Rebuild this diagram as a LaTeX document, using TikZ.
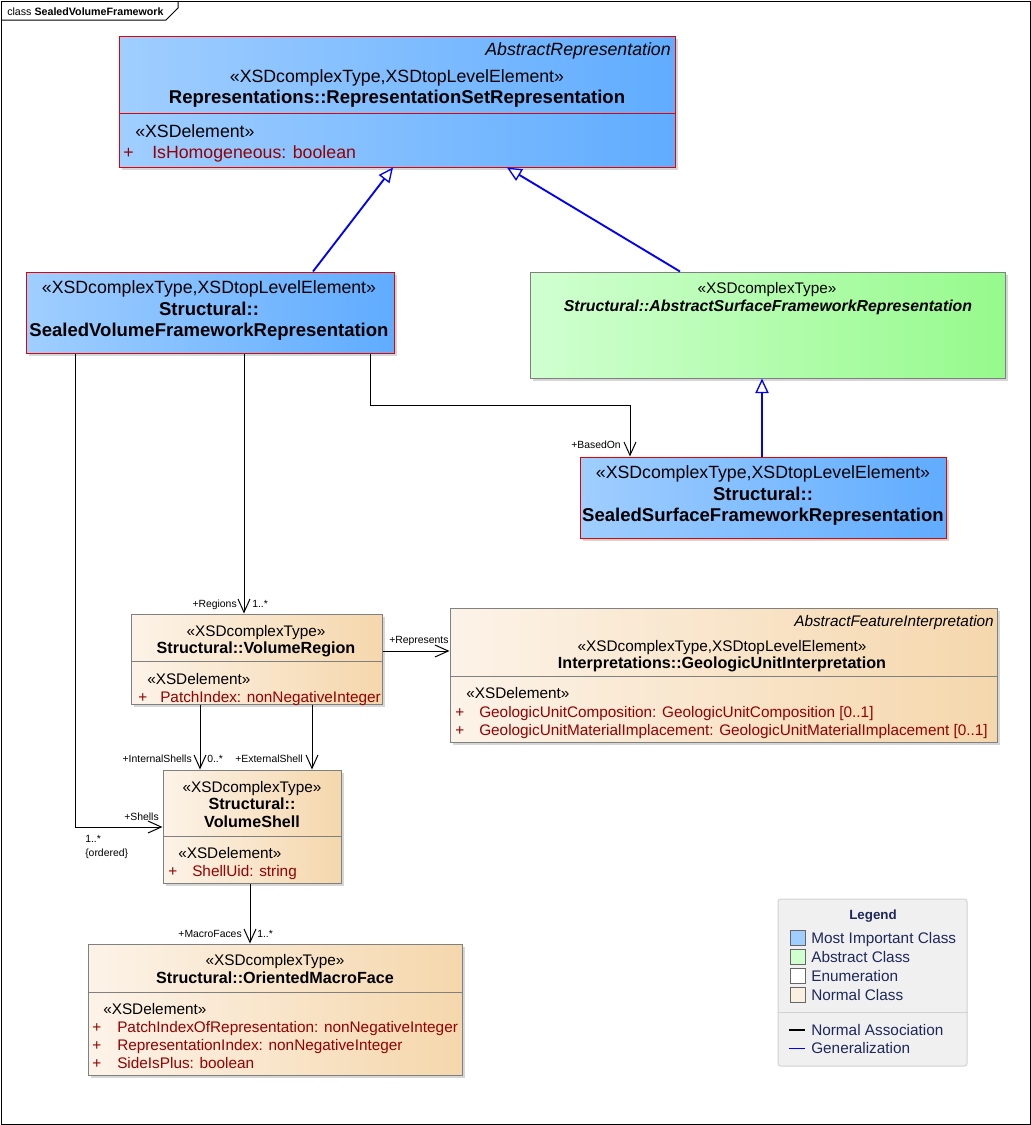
\documentclass[tikz,border=0pt]{standalone}
\usepackage{fontspec}
\setmainfont{Liberation Sans}
\usetikzlibrary{fit,shadows,arrows.meta,calc}
\definecolor{blueL}{RGB}{160,206,255}
\definecolor{blueR}{RGB}{96,172,255}
\definecolor{greenL}{RGB}{208,255,208}
\definecolor{greenR}{RGB}{150,250,140}
\definecolor{beigeL}{RGB}{252,243,232}
\definecolor{beigeR}{RGB}{245,215,172}
\definecolor{redB}{RGB}{230,0,0}
\definecolor{grayB}{RGB}{128,128,128}
\definecolor{attrc}{RGB}{150,0,0}
\definecolor{navy}{RGB}{30,40,90}
\definecolor{genblue}{RGB}{0,0,255}
\definecolor{legbg}{RGB}{240,240,240}
\definecolor{legline}{RGB}{210,210,210}
\definecolor{legblue}{RGB}{160,206,255}
\definecolor{leggreen}{RGB}{208,255,208}
\definecolor{legbeige}{RGB}{250,240,226}
\begin{document}
\begin{tikzpicture}[x=0.75pt,y=-0.75pt,
  box/.style={inner sep=0pt, line width=0.75pt,
    drop shadow={shadow xshift=2.5pt,shadow yshift=-2.5pt,fill=black!16,opacity=1}},
  blueclass/.style={box, draw=redB, left color=blueL, right color=blueR},
  greenclass/.style={box, draw=grayB, left color=greenL, right color=greenR},
  normclass/.style={box, draw=grayB, left color=beigeL, right color=beigeR},
  bt/.style={inner sep=0pt, font=\fontsize{13.3}{15.75}\selectfont, anchor=mid, yshift=-1.9pt},
  nt/.style={inner sep=0pt, font=\fontsize{11.5}{13.2}\selectfont, anchor=mid, yshift=-1.9pt},
  btb/.style={bt, font=\fontsize{13.9}{15.75}\selectfont\bfseries},
  ntb/.style={nt, font=\fontsize{12.1}{13.2}\selectfont\bfseries},
  battr/.style={bt, anchor=mid west, text=attrc},
  nattr/.style={nt, anchor=mid west, text=attrc},
  lbl/.style={inner sep=0pt, font=\fontsize{7.8}{9}\selectfont, anchor=mid, yshift=-0.8pt},
  legt/.style={inner sep=0pt, font=\fontsize{11.5}{13}\selectfont, text=navy, anchor=mid west, yshift=-1.5pt},
  sep/.style={line width=0.75pt},
  gen/.style={draw=genblue, line width=1.4pt, -{Triangle[length=11pt,width=10pt,fill=white,line width=1pt]}},
  assoc/.style={draw=black, line width=0.75pt, -{Straight Barb[length=10pt,width=9pt]}}
]
\useasboundingbox (0,0) rectangle (1031,1125);
% frame
\draw[line width=0.75pt] (1,1) rectangle (1030,1124);
\draw[line width=0.75pt] (1,20) -- (166,20) -- (178,8) -- (178,1);
\node[inner sep=0pt, anchor=mid west, font=\fontsize{8}{9}\selectfont, yshift=-0.8pt] (title) at (7,11) {class \textbf{SealedVolumeFramework}};

% ---------- boxes ----------
\node[blueclass, fit={(119,36) (675,167)}] (rsr) {};
\draw[sep, redB] (rsr.west |- 0,113) -- (rsr.east |- 0,113);
\node[bt, anchor=mid east, font=\fontsize{13.3}{15.75}\selectfont\itshape] (rsrA) at (671,49) {AbstractRepresentation};
\node[bt] (rsrS) at (397,76) {«XSDcomplexType,XSDtopLevelElement»};
\node[btb] (rsrN) at (397,97) {Representations::RepresentationSetRepresentation};
\node[bt, anchor=mid west] (rsrE) at (135,131) {«XSDelement»};
\node[battr] (rsrP) at (123,152) {+};
\node[battr] (rsrT) at (152,152) {IsHomogeneous: boolean};

\node[blueclass, fit={(26,272) (394,353)}] (svfr) {};
\node[bt] (svfrS) at (209,287) {«XSDcomplexType,XSDtopLevelElement»};
\node[btb] (svfrN1) at (209,309) {Structural::};
\node[btb] (svfrN2) at (209,330) {SealedVolumeFrameworkRepresentation};

\node[greenclass, fit={(530,272) (1005,378)}] (asfr) {};
\node[nt] (asfrS) at (767,287) {«XSDcomplexType»};
\node[ntb, font=\fontsize{11.9}{13.2}\selectfont\bfseries\itshape] (asfrN) at (768,305) {Structural::AbstractSurfaceFrameworkRepresentation};

\node[blueclass, fit={(580,457) (946,538)}] (ssfr) {};
\node[bt] (ssfrS) at (763,472) {«XSDcomplexType,XSDtopLevelElement»};
\node[btb] (ssfrN1) at (763,494) {Structural::};
\node[btb] (ssfrN2) at (763,515) {SealedSurfaceFrameworkRepresentation};

\node[normclass, fit={(131,614) (382,704)}] (vr) {};
\draw[sep, grayB] (vr.west |- 0,661) -- (vr.east |- 0,661);
\node[nt] (vrS) at (256,630) {«XSDcomplexType»};
\node[ntb] (vrN) at (256,647) {Structural::VolumeRegion};
\node[nt, anchor=mid west] (vrE) at (147,678) {«XSDelement»};
\node[nattr] (vrP) at (138,696) {+};
\node[nattr] (vrT) at (160,696) {PatchIndex: nonNegativeInteger};

\node[normclass, fit={(450,608) (997,742)}] (gui) {};
\draw[sep, grayB] (gui.west |- 0,676) -- (gui.east |- 0,676);
\node[nt, anchor=mid east, font=\fontsize{11.5}{13.2}\selectfont\itshape] (guiA) at (994,620) {AbstractFeatureInterpretation};
\node[nt] (guiS) at (722,645) {«XSDcomplexType,XSDtopLevelElement»};
\node[ntb] (guiN) at (722,662) {Interpretations::GeologicUnitInterpretation};
\node[nt, anchor=mid west] (guiE) at (466,692) {«XSDelement»};
\node[nattr] (guiP1) at (455,711) {+};
\node[nattr] (guiT1) at (479,711) {GeologicUnitComposition: GeologicUnitComposition [0..1]};
\node[nattr] (guiP2) at (455,729) {+};
\node[nattr] (guiT2) at (479,729) {GeologicUnitMaterialImplacement: GeologicUnitMaterialImplacement [0..1]};

\node[normclass, fit={(163,770) (341,883)}] (vs) {};
\draw[sep, grayB] (vs.west |- 0,836) -- (vs.east |- 0,836);
\node[nt] (vsS) at (252,786) {«XSDcomplexType»};
\node[ntb] (vsN1) at (252,803) {Structural::};
\node[ntb] (vsN2) at (252,821) {VolumeShell};
\node[nt, anchor=mid west] (vsE) at (178,852) {«XSDelement»};
\node[nattr] (vsP) at (168,870) {+};
\node[nattr] (vsT) at (192,870) {ShellUid: string};

\node[normclass, fit={(88,944) (462,1075)}] (omf) {};
\draw[sep, grayB] (omf.west |- 0,992) -- (omf.east |- 0,992);
\node[nt] (omfS) at (275,959) {«XSDcomplexType»};
\node[ntb] (omfN) at (275,977) {Structural::OrientedMacroFace};
\node[nt, anchor=mid west] (omfE) at (103,1008) {«XSDelement»};
\node[nattr] (omfP1) at (92,1026) {+};
\node[nattr] (omfT1) at (117,1026) {PatchIndexOfRepresentation: nonNegativeInteger};
\node[nattr] (omfP2) at (92,1044) {+};
\node[nattr] (omfT2) at (117,1044) {RepresentationIndex: nonNegativeInteger};
\node[nattr] (omfP3) at (92,1062) {+};
\node[nattr] (omfT3) at (117,1062) {SideIsPlus: boolean};

% ---------- legend ----------
\node[draw=legline, fill=legbg, rounded corners=2pt, inner sep=0pt, line width=0.75pt, fit={(778,899) (967,1066)}] (leg) {};
\node[inner sep=0pt, anchor=mid, font=\fontsize{10}{12}\selectfont\bfseries, text=navy, yshift=-1.5pt] (legT) at (873,914) {Legend};
\node[draw=black!60, fill=legblue, inner sep=0pt, fit={(790,930) (805,945)}] (lsq1) {};
\node[draw=black!60, fill=leggreen, inner sep=0pt, fit={(790,949) (805,964)}] (lsq2) {};
\node[draw=black!60, fill=white, inner sep=0pt, fit={(790,968) (805,983)}] (lsq3) {};
\node[draw=black!60, fill=legbeige, inner sep=0pt, fit={(790,987) (805,1002)}] (lsq4) {};
\node[legt] (leg1) at (811,938) {Most Important Class};
\node[legt] (leg2) at (811,957) {Abstract Class};
\node[legt] (leg3) at (811,976) {Enumeration};
\node[legt] (leg4) at (811,995) {Normal Class};
\draw[legline, line width=0.75pt] (leg.west |- 0,1012) -- (leg.east |- 0,1012);
\draw[black, line width=2pt] (789,1030) -- (805,1030);
\draw[genblue, line width=0.75pt] (789,1048) -- (805,1048);
\node[legt] (leg5) at (811,1030) {Normal Association};
\node[legt] (leg6) at (811,1048) {Generalization};

% ---------- connectors ----------
\draw[gen] (svfr.north -| 313,0) -- (rsr.south -| 393,0);
\draw[gen] (asfr.north -| 680,0) -- (rsr.south -| 507,0);
\draw[gen] (ssfr.north -| 762,0) -- (asfr.south -| 762,0);

\draw[assoc] (svfr.south -| 370,0) -- (370,405) -- (630,405) -- (ssfr.north -| 630,0);
\node[lbl, anchor=mid east] (lBased) at (621,444) {+BasedOn};

\draw[assoc] (svfr.south -| 244,0) -- (vr.north -| 244,0);
\node[lbl, anchor=mid east] (lReg) at (237,603) {+Regions};
\node[lbl, anchor=mid west] (lRegM) at (252,603) {1..*};

\draw[assoc] (svfr.south -| 75,0) -- (75,827) -- (vs.west |- 0,827);
\node[lbl, anchor=mid east] (lSh) at (159,816) {+Shells};
\node[lbl, anchor=mid west] (lShM) at (85,838) {1..*};
\node[lbl, anchor=mid west] (lShO) at (85,852) {\{ordered\}};

\draw[assoc] (vr.east |- 0,651) -- (gui.west |- 0,651);
\node[lbl, anchor=mid west] (lRep) at (389,639) {+Represents};

\draw[assoc] (vr.south -| 200,0) -- (vs.north -| 200,0);
\node[lbl, anchor=mid east] (lIS) at (192,758) {+InternalShells};
\node[lbl, anchor=mid west] (lISM) at (207,758) {0..*};

\draw[assoc] (vr.south -| 312,0) -- (vs.north -| 312,0);
\node[lbl, anchor=mid east] (lES) at (303,758) {+ExternalShell};

\draw[assoc] (vs.south -| 250,0) -- (omf.north -| 250,0);
\node[lbl, anchor=mid east] (lMF) at (242,933) {+MacroFaces};
\node[lbl, anchor=mid west] (lMFM) at (257,933) {1..*};
\end{tikzpicture}
\end{document}
